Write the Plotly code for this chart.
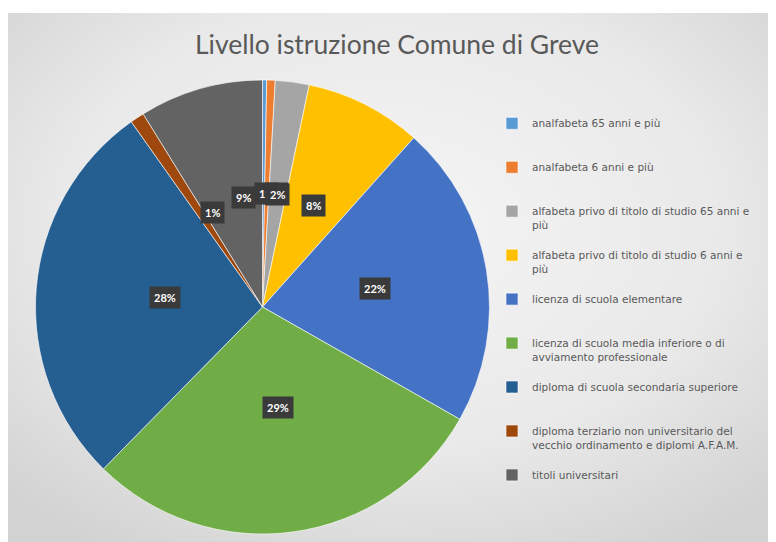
import base64
import math
import plotly.graph_objects as go

# ---- data ----
categories = [
    "analfabeta 65 anni e più",
    "analfabeta 6 anni e più",
    "alfabeta privo di titolo di studio 65 anni e più",
    "alfabeta privo di titolo di studio 6 anni e più",
    "licenza di scuola elementare",
    "licenza di scuola media inferiore o di avviamento professionale",
    "diploma di scuola secondaria superiore",
    "diploma terziario non universitario del vecchio ordinamento e diplomi A.F.A.M.",
    "titoli universitari",
]
legend_labels = [
    "analfabeta 65 anni e più<br> <br> ",
    "analfabeta 6 anni e più<br> <br> ",
    "alfabeta privo di titolo di studio 65 anni e<br>più<br> ",
    "alfabeta privo di titolo di studio 6 anni e<br>più<br> ",
    "licenza di scuola elementare<br> <br> ",
    "licenza di scuola media inferiore o di<br>avviamento professionale<br> ",
    "diploma di scuola secondaria superiore<br> <br> ",
    "diploma terziario non universitario del<br>vecchio ordinamento e diplomi A.F.A.M.<br> ",
    "titoli universitari<br> <br> ",
]
values = [0.3, 0.6, 2.4, 8.3, 21.6, 29.1, 27.8, 1.0, 8.8]
colors = ["#5B9BD5", "#ED7D31", "#A5A5A5", "#FFC000", "#4472C4",
          "#70AD47", "#255E91", "#9E480E", "#636363"]
title_text = "Livello istruzione Comune di Greve"

# ---- geometry (figure pixels; page has an 8px body margin) ----
W, H = 768, 534
cx, cy, R = 254.5, 299.0, 227.0
dom_x = [(cx - R) / W, (cx + R) / W]
dom_y = [1 - (cy + R) / H, 1 - (cy - R) / H]

fig = go.Figure()
fig.add_trace(go.Pie(
    labels=legend_labels,
    values=values,
    sort=False,
    direction="clockwise",
    rotation=0,
    marker=dict(colors=colors, line=dict(color="rgba(255,255,255,0.6)", width=1)),
    textinfo="none",
    hoverinfo="label+percent",
    domain=dict(x=dom_x, y=dom_y),
))

# data labels (percentages in dark boxes), placed at mid-angle of each slice
total = sum(values)
cum = 0.0
annotations = []
for v in values:
    mid = (cum + v / 2) / total * 2 * math.pi
    cum += v
    rl = 0.5 * R
    px = cx + rl * math.sin(mid)
    py = cy - rl * math.cos(mid)
    annotations.append(dict(
        x=px / W, y=1 - py / H, xref="paper", yref="paper",
        text=f"<b>{round(v / total * 100)}%</b>", showarrow=False,
        font=dict(family="Lato, Arial", size=11, color="white"),
        bgcolor="#3a3a3a", borderpad=4,
    ))

# background panel with soft radial gradient
svg = ('<svg xmlns="http://www.w3.org/2000/svg" width="768" height="529" viewBox="0 0 768 529" '
       'preserveAspectRatio="none"><defs><radialGradient id="g" cx="50%" cy="40%" r="72%">'
       '<stop offset="0" stop-color="#f5f5f5"/><stop offset="0.6" stop-color="#e9e9e9"/>'
       '<stop offset="1" stop-color="#d2d2d2"/></radialGradient></defs>'
       '<rect width="768" height="529" fill="url(#g)"/></svg>')
src = "data:image/svg+xml;base64," + base64.b64encode(svg.encode()).decode()

fig.update_layout(
    width=W, height=H,
    margin=dict(l=0, r=0, t=0, b=0),
    paper_bgcolor="white",
    title=dict(text=title_text, x=389 / W, y=1 - 37 / H, xanchor="center", yanchor="middle",
               font=dict(family="Lato, Arial", size=26.5, color="#595959")),
    showlegend=True,
    legend=dict(x=484 / W, y=1 - 102 / H, xanchor="left", yanchor="top",
                font=dict(family="DejaVu Sans, Arial", size=10.5, color="#595959"),
                valign="top", bgcolor="rgba(0,0,0,0)", traceorder="normal"),
    annotations=annotations,
    images=[dict(source=src, xref="paper", yref="paper", x=0, y=1 - 5 / H,
                 sizex=1, sizey=(H - 5) / H, sizing="stretch",
                 xanchor="left", yanchor="top", layer="below")],
)

fig.write_html("out.html")
